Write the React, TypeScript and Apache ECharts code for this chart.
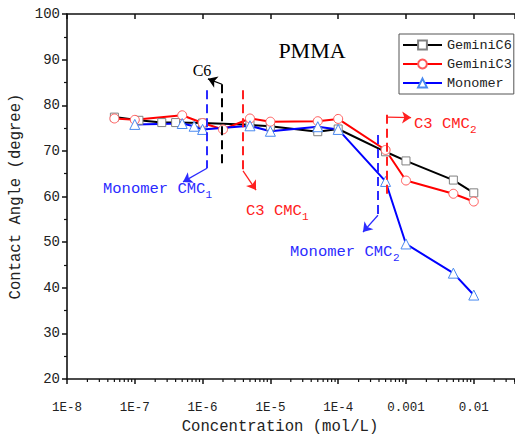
import { useEffect, useRef } from 'react';
import * as echarts from 'echarts';

// ---- data (concentration in mol/L, contact angle in degree) ----
const c6Conc = [5e-8, 1.15e-7, 2.5e-7, 4e-7, 1e-6, 5e-6, 1e-5, 5e-5, 1e-4, 5e-4, 1e-3, 5e-3, 1e-2];
const c6Angle = [77.4, 76.7, 76.2, 76.2, 76.1, 75.7, 75.4, 74.2, 74.8, 69.8, 67.8, 63.6, 60.8];

const c3Conc = [5e-8, 1e-7, 5e-7, 1e-6, 2e-6, 5e-6, 1e-5, 5e-5, 1e-4, 5e-4, 1e-3, 5e-3, 1e-2];
const c3Angle = [77.1, 76.8, 77.8, 76.1, 74.7, 77.1, 76.4, 76.5, 77.0, 70.2, 63.5, 60.6, 58.9];

const monoConc = [1e-7, 5e-7, 7.5e-7, 1e-6, 5e-6, 1e-5, 5e-5, 1e-4, 5e-4, 1e-3, 5e-3, 1e-2];
const monoAngle = [75.8, 76.0, 75.4, 74.7, 75.5, 74.3, 75.3, 74.7, 63.3, 49.6, 43.2, 38.4];

const seriesNames = ['GeminiC6', 'GeminiC3', 'Monomer'];
const xTickExponents = [-8, -7, -6, -5, -4, -3, -2];
const xTickLabels = ['1E-8', '1E-7', '1E-6', '1E-5', '1E-4', '0.001', '0.01'];

// annotation guide lines: [concentration, angle]
const c6Dashed = [[1.93e-6, 67.3], [1.93e-6, 84.6]];
const c6Arrow = [[1.93e-6, 84.6], [1.2e-6, 85.8]];
const monoCmc1Dashed = [[1.16e-6, 83.3], [1.16e-6, 66.2]];
const monoCmc1Arrow = [[1.16e-6, 66.2], [5.14e-7, 63.2]];
const c3Cmc1Dashed = [[3.95e-6, 83.3], [3.95e-6, 66.0]];
const c3Cmc1Arrow = [[3.95e-6, 65.6], [6.14e-6, 61.4]];
const monoCmc2Dashed = [[3.86e-4, 73.5], [3.86e-4, 55.9]];
const monoCmc2Arrow = [[3.86e-4, 55.9], [2.32e-4, 52.2]];
const c3Cmc2Dashed = [[5.25e-4, 77.9], [5.25e-4, 60.3]];
const c3Cmc2Arrow = [[5.25e-4, 77.4], [1.19e-3, 77.3]];

const X_MIN = -8;
const X_MAX = -1.392;
const Y_MIN = 20;
const Y_MAX = 100;

const MONO = '"Liberation Mono", "DejaVu Sans Mono", monospace';
const SERIF = '"Liberation Serif", "DejaVu Serif", serif';

const toPts = (conc: number[], ang: number[]) => conc.map((c, i) => [Math.log10(c), ang[i]]);

// log-decade minor tick positions (2..9 within each decade)
const minorTickValues: number[] = [];
for (let n = -8; n <= -2; n++) {
  for (let k = 2; k <= 9; k++) {
    const v = n + Math.log10(k);
    if (v <= X_MAX) minorTickValues.push(v);
  }
}

function mkLine(pts: number[][], color: string, dashed: boolean) {
  const style = { color, width: dashed ? 2 : 1.3, type: dashed ? [9, 5] : 'solid' };
  return [
    { coord: [Math.log10(pts[0][0]), pts[0][1]], symbol: 'none', lineStyle: style },
    { coord: [Math.log10(pts[1][0]), pts[1][1]], symbol: dashed ? 'none' : 'arrow', symbolSize: 9, lineStyle: style },
  ];
}

function markLineOf(items: any[]) {
  return {
    silent: true,
    animation: false,
    symbol: ['none', 'none'],
    label: { show: false },
    emphasis: { disabled: true },
    data: items,
  };
}

export default function App() {
  const ref = useRef<HTMLDivElement>(null);
  useEffect(() => {
    if (!ref.current) return;
    const chart = echarts.init(ref.current, undefined, { renderer: 'svg' });
    const axisColor = '#111';
    const txt = (text: string, x: number, y: number, color: string, font: string, align = 'left') => ({
      type: 'text',
      x,
      y,
      silent: true,
      style: { text, fill: color, font, align, verticalAlign: 'middle' },
    });
    const blue = '#2b2bff';
    const red = '#ff2020';
    chart.setOption({
      animation: false,
      textStyle: { fontFamily: MONO },
      grid: { left: 67, top: 14, bottom: 56, right: 0, containLabel: false, outerBoundsMode: 'none' },
      legend: {
        data: seriesNames,
        orient: 'vertical',
        left: 399,
        top: 34,
        padding: [4, 2, 4, 3],
        itemGap: 5,
        itemWidth: 39,
        itemHeight: 11,
        borderColor: '#555',
        borderWidth: 1,
        textStyle: { fontFamily: MONO, fontSize: 13.5, color: '#222' },
      },
      xAxis: [
        {
          type: 'value',
          position: 'bottom',
          min: X_MIN,
          max: X_MAX,
          interval: 1,
          axisLine: { show: true, lineStyle: { color: axisColor, width: 1.6 } },
          axisTick: { show: true, length: 5, lineStyle: { color: axisColor, width: 1.5 } },
          axisLabel: {
            margin: 22,
            fontSize: 12.5,
            fontFamily: MONO,
            color: '#222',
            formatter: (v: number) => {
              const i = xTickExponents.findIndex((e) => Math.abs(e - v) < 1e-6);
              return i >= 0 ? xTickLabels[i] : '';
            },
          },
          splitLine: { show: false },
          name: 'Concentration (mol/L)',
          nameLocation: 'middle',
          nameGap: 39,
          nameTextStyle: { fontFamily: MONO, fontSize: 15.6, color: '#222', padding: [0, 22, 0, 0] },
        },
        {
          type: 'value',
          position: 'top',
          min: X_MIN,
          max: X_MAX,
          interval: 1,
          axisLine: { show: true, lineStyle: { color: axisColor, width: 1.6 } },
          axisTick: { show: true, inside: true, length: 5, lineStyle: { color: axisColor, width: 1.5 } },
          axisLabel: { show: false },
          splitLine: { show: false },
        },
      ],
      yAxis: {
        type: 'value',
        min: Y_MIN,
        max: Y_MAX,
        interval: 10,
        axisLine: { show: true, lineStyle: { color: axisColor, width: 1.6 } },
        axisTick: { show: true, length: 5, lineStyle: { color: axisColor, width: 1.5 } },
        minorTick: { show: true, splitNumber: 2, length: 3, lineStyle: { color: axisColor, width: 1.2 } },
        axisLabel: { margin: 7, fontSize: 14, fontFamily: MONO, color: '#222' },
        splitLine: { show: false },
        name: 'Contact Angle (degree)',
        nameLocation: 'middle',
        nameGap: 37,
        nameTextStyle: { fontFamily: MONO, fontSize: 15.6, color: '#222' },
      },
      series: [
        {
          name: seriesNames[0],
          type: 'line',
          data: toPts(c6Conc, c6Angle),
          symbol: 'rect',
          symbolSize: 8,
          lineStyle: { color: '#000', width: 2 },
          itemStyle: { color: '#fff', borderColor: '#808080', borderWidth: 1 },
          emphasis: { disabled: true },
          markLine: markLineOf([mkLine(c6Dashed, '#000', true), mkLine(c6Arrow, '#000', false)]),
        },
        {
          name: seriesNames[1],
          type: 'line',
          data: toPts(c3Conc, c3Angle),
          symbol: 'circle',
          symbolSize: 9,
          lineStyle: { color: '#ff0000', width: 2 },
          itemStyle: { color: '#fff', borderColor: '#ff5a5a', borderWidth: 1 },
          emphasis: { disabled: true },
          markLine: markLineOf([
            mkLine(c3Cmc1Dashed, red, true),
            mkLine(c3Cmc1Arrow, red, false),
            mkLine(c3Cmc2Dashed, red, true),
            mkLine(c3Cmc2Arrow, red, false),
          ]),
        },
        {
          name: seriesNames[2],
          type: 'line',
          data: toPts(monoConc, monoAngle),
          symbol: 'triangle',
          symbolSize: 10,
          lineStyle: { color: '#0000ff', width: 2 },
          itemStyle: { color: '#fff', borderColor: '#4a8af0', borderWidth: 1 },
          emphasis: { disabled: true },
          markLine: markLineOf([
            mkLine(monoCmc1Dashed, blue, true),
            mkLine(monoCmc1Arrow, blue, false),
            mkLine(monoCmc2Dashed, blue, true),
            mkLine(monoCmc2Arrow, blue, false),
          ]),
        },
        {
          name: 'minorTicks',
          type: 'custom',
          silent: true,
          clip: false,
          z: 5,
          data: minorTickValues.map((v) => [v, Y_MIN]),
          renderItem: (_params: any, api: any) => {
            const p = api.coord([api.value(0), api.value(1)]);
            return {
              type: 'line',
              shape: { x1: p[0], y1: p[1], x2: p[0], y2: p[1] + 3 },
              style: { stroke: axisColor, lineWidth: 1.2 },
            };
          },
        },
      ],
      graphic: [
        txt('PMMA', 312, 50, '#000', `22px ${SERIF}`, 'center'),
        txt('C6', 202, 70, '#000', `16px ${SERIF}`, 'center'),
        txt('Monomer CMC', 103, 189, blue, `15.5px ${MONO}`),
        txt('1', 205.5, 195, blue, `11px ${MONO}`),
        txt('C3 CMC', 246, 211, red, `15.5px ${MONO}`),
        txt('1', 302, 217, red, `11px ${MONO}`),
        txt('Monomer CMC', 290, 252, blue, `15.5px ${MONO}`),
        txt('2', 393, 258, blue, `11px ${MONO}`),
        txt('C3 CMC', 414, 124, red, `15.5px ${MONO}`),
        txt('2', 470, 130, red, `11px ${MONO}`),
      ],
    });
    return () => chart.dispose();
  }, []);
  return (
    <div
      ref={ref}
      style={{ position: 'absolute', left: 0, top: 0, width: 515, height: 435, background: '#fff' }}
    />
  );
}
